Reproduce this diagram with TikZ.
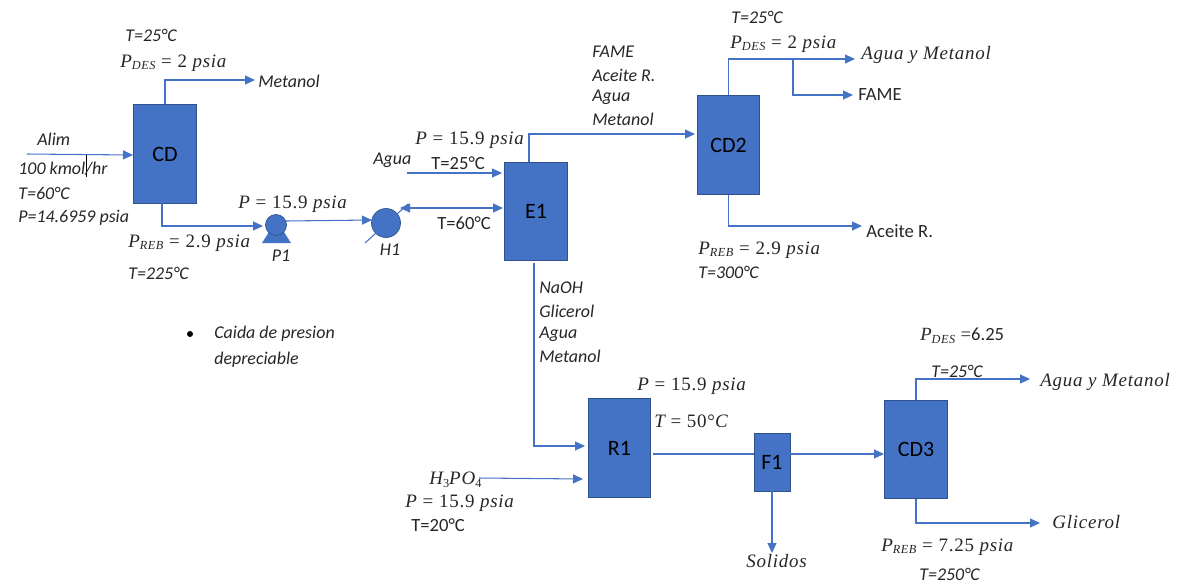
\documentclass[tikz,border=0pt]{standalone}
\usepackage{fontspec}
\setmainfont{Carlito}
\newfontfamily\camfont[LetterSpace=4]{Liberation Serif}
\newcommand{\mvar}[1]{{\itshape #1}}
\newcommand{\msub}[2]{{\itshape #1\raisebox{-0.3ex}{\fontsize{7}{8}\selectfont #2}}}
\newcommand{\meq}{\hspace{0.3em}=\hspace{0.3em}}
\usepackage{xcolor}
\usetikzlibrary{arrows.meta}
\definecolor{unitblue}{HTML}{4472C4}
\definecolor{unitedge}{HTML}{2F528F}
\definecolor{inktext}{HTML}{262626}

\begin{document}
\begin{tikzpicture}[
    x=0.02cm,
    y=-0.02cm,
    >={Triangle[length=0.2cm,width=0.18cm]},
    unitbox/.style={rectangle, draw=unitedge, fill=unitblue, line width=0.5pt, inner sep=0pt, minimum width=1.25cm, minimum height=1.97cm, font=\fontsize{12.5}{14}\selectfont, text=black},
    roundunit/.style={circle, draw=unitedge, fill=unitblue, inner sep=0pt},
    stream/.style={draw=unitblue, line width=0.6pt, ->},
    biStream/.style={draw=unitblue, line width=0.6pt, <->},
    plainline/.style={draw=unitblue, line width=0.6pt},
    lbl/.style={anchor=west, inner sep=0pt, text=inktext, font=\fontsize{10.2}{12}\selectfont\itshape},
    uplbl/.style={anchor=west, inner sep=0pt, text=inktext, font=\fontsize{10.6}{12}\selectfont},
    mlbl/.style={anchor=west, inner sep=0pt, text=inktext, font=\fontsize{10.8}{12}\selectfont\camfont}
]
    \useasboundingbox (0,0) rectangle (1177,582);

    % Equipos
    \node [unitbox] (cd) at (165,154) {CD};
    \node [unitbox] (cd2) at (728.5,145) {CD2};
    \node [unitbox] (e1) at (536,211.5) {E1};
    \node [unitbox] (r1) at (619.5,448) {R1};
    \node [unitbox, minimum width=0.72cm, minimum height=1.16cm] (f1) at (772,462) {F1};
    \node [unitbox] (cd3) at (916,449.5) {CD3};
    \fill [unitblue] (269,232) -- (262,243) -- (291,243) -- (284,232) -- cycle;
    \node [roundunit, minimum size=0.42cm] (p1) at (276,225) {};
    \node [roundunit, minimum size=0.58cm] (h1) at (386,223) {};

    % Extremos libres
    \coordinate (alimIn) at (27,154);
    \coordinate (alimEnd) at (133,155);
    \coordinate (metanolOut) at (255,80);
    \coordinate (cdLow) at (162,203);
    \coordinate (p1In) at (263,226);
    \coordinate (p1Out) at (286,221);
    \coordinate (h1In) at (372,220);
    \coordinate (h1Low) at (365,243);
    \coordinate (h1High) at (408,204);
    \coordinate (h1Return) at (400,208);
    \coordinate (e1Feed) at (503,208);
    \coordinate (aguaIn) at (407,173);
    \coordinate (aguaEnd) at (502,173);
    \coordinate (e1Top) at (529,162);
    \coordinate (cd2In) at (695,134);
    \coordinate (cd2Top) at (793,59);
    \coordinate (aguaMetOut) at (855,59);
    \coordinate (fameOut) at (853,95);
    \coordinate (aceiteOut) at (862,226);
    \coordinate (e1Low) at (534,263);
    \coordinate (r1In) at (585,446);
    \coordinate (acidIn) at (479,478);
    \coordinate (acidEnd) at (583,479);
    \coordinate (r1Out) at (653,454);
    \coordinate (f1In) at (754,454);
    \coordinate (f1Out) at (790,454);
    \coordinate (cd3In) at (884,454);
    \coordinate (solidosOut) at (772,553);
    \coordinate (aguaMet3Out) at (1030,379);
    \coordinate (glicerolOut) at (1040,523);
    \coordinate (tickTop) at (86,155);
    \coordinate (tickLow) at (86,177);
    \coordinate (bulletDot) at (190,334);

    % Corrientes
    \draw [stream] (alimIn) -- (alimEnd);
    \draw [stream] (cd.north) |- (metanolOut);
    \draw [stream] (cdLow) |- (p1In);
    \draw [stream] (p1Out) -- (h1In);
    \draw [plainline] (h1Low) -- (h1High);
    \draw [biStream] (e1Feed) -- (h1Return);
    \draw [stream] (aguaIn) -- (aguaEnd);
    \draw [stream] (e1Top) |- (cd2In);
    \draw [stream] (cd2.north) |- (aguaMetOut);
    \draw [stream] (cd2Top) |- (fameOut);
    \draw [stream] (cd2.south) |- (aceiteOut);
    \draw [stream] (e1Low) |- (r1In);
    \draw [stream] (acidIn) -- (acidEnd);
    \draw [plainline] (r1Out) -- (f1In);
    \draw [stream] (f1Out) -- (cd3In);
    \draw [stream] (f1.south) -- (solidosOut);
    \draw [stream] (cd3.north) |- (aguaMet3Out);
    \draw [stream] (cd3.south) |- (glicerolOut);
    \draw [black, line width=0.4pt] (tickTop) -- (tickLow);
    \fill [black] (bulletDot) circle (3);

    % Zona de CD
    \node [lbl] (cdTemp) at (125,35) {T=25°C};
    \node [mlbl] (cdDes) at (120,63) {\msub{P}{DES}\meq{}2 \mvar{psia}};
    \node [lbl] (metanolLbl) at (258,81) {Metanol};
    \node [lbl] (alimLbl) at (37,139) {Alim};
    \node [lbl] (alimFlow) at (18,169) {100 kmol/hr};
    \node [lbl] (alimTemp) at (18,193) {T=60°C};
    \node [lbl] (alimPres) at (18,218) {P=14.6959 psia};
    \node [mlbl] (p1Pres) at (238,204) {\mvar{P}\meq{}15.9 \mvar{psia}};
    \node [mlbl] (cdReb) at (128,243) {\msub{P}{REB}\meq{}2.9 \mvar{psia}};
    \node [lbl] (cdRebTemp) at (128,273) {T=225°C};
    \node [lbl, anchor=center] (p1Lbl) at (281,256) {P1};
    \node [lbl, anchor=center] (h1Lbl) at (390,250) {H1};
    \node [lbl] (notaUno) at (214,334) {Caida de presion};
    \node [lbl] (notaDos) at (214,360) {depreciable};

    % Zona de E1
    \node [lbl] (aguaLbl) at (373,160) {Agua};
    \node [mlbl] (e1Pres) at (415,140) {\mvar{P}\meq{}15.9 \mvar{psia}};
    \node [uplbl] (e1Agua) at (431,163) {T=25°C};
    \node [uplbl] (e1Temp) at (437,223) {T=60°C};
    \node [lbl] (topFame) at (592,52) {FAME};
    \node [lbl] (topAceite) at (592,75) {Aceite R.};
    \node [lbl] (topAgua) at (592,97) {Agua};
    \node [lbl] (topMetanol) at (592,119) {Metanol};
    \node [lbl] (lowNaoh) at (539,288) {NaOH};
    \node [lbl] (lowGlicerol) at (539,311) {Glicerol};
    \node [lbl] (lowAgua) at (539,334) {Agua};
    \node [lbl] (lowMetanol) at (539,356) {Metanol};

    % Zona de CD2
    \node [lbl] (cd2Temp) at (731,17) {T=25°C};
    \node [mlbl] (cd2Des) at (730,44) {\msub{P}{DES}\meq{}2 \mvar{psia}};
    \node [mlbl] (cd2Agua) at (861,55) {\mvar{Agua y Metanol}};
    \node [uplbl] (fameLbl) at (858,95) {FAME};
    \node [uplbl] (aceiteLbl) at (866,231) {Aceite R.};
    \node [mlbl] (cd2Reb) at (698,250) {\msub{P}{REB}\meq{}2.9 \mvar{psia}};
    \node [lbl] (cd2RebTemp) at (698,272) {T=300°C};

    % Zona de R1, F1 y CD3
    \node [mlbl] (r1Pres) at (637,386) {\mvar{P}\meq{}15.9 \mvar{psia}};
    \node [mlbl] (r1Temp) at (654,421) {\mvar{T}\meq{}50°\mvar{C}};
    \node [mlbl] (acidLbl) at (429,480) {\mvar{H}\raisebox{-0.3ex}{\fontsize{7}{8}\selectfont 3}\mvar{PO}\raisebox{-0.3ex}{\fontsize{7}{8}\selectfont 4}};
    \node [mlbl] (acidPres) at (405,503) {\mvar{P}\meq{}15.9 \mvar{psia}};
    \node [uplbl] (acidTemp) at (411,525) {T=20°C};
    \node [mlbl] (solidosLbl) at (746,561) {\mvar{Solidos}};
    \node [uplbl] (cd3Des) at (920,336) {{\camfont\msub{P}{DES} =}6.25};
    \node [lbl] (cd3Temp) at (931,371) {T=25°C};
    \node [mlbl] (cd3Agua) at (1040,382) {\mvar{Agua y Metanol}};
    \node [mlbl] (cd3Glicerol) at (1052,522) {\mvar{Glicerol}};
    \node [mlbl] (cd3Reb) at (881,547) {\msub{P}{REB}\meq{}7.25 \mvar{psia}};
    \node [lbl] (cd3RebTemp) at (919,574) {T=250°C};

\end{tikzpicture}
\end{document}
